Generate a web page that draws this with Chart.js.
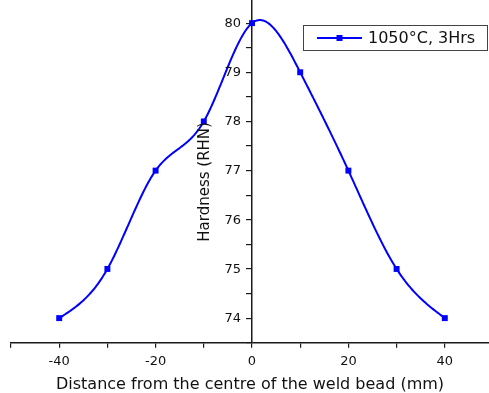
<!DOCTYPE html>
<html>
<head>
<meta charset="utf-8">
<script src="https://cdn.jsdelivr.net/npm/chart.js@4.4.1/dist/chart.umd.min.js"></script>
<style>
  html, body { margin: 0; padding: 0; background: #ffffff; }
  #wrap { width: 489px; height: 393px; }
</style>
</head>
<body>
<div id="wrap"><canvas id="c" width="489" height="393"></canvas></div>
<script>
// ---- data ----
const distances = [-40, -30, -20, -10, 0, 10, 20, 30, 40];      // mm
const hardness  = [74, 75, 77, 78, 80, 79, 77, 75, 74];           // RHN
const seriesLabel = '1050°C, 3Hrs';
const xTitle = 'Distance from the centre of the weld bead (mm)';
const yTitle = 'Hardness (RHN)';
const xLabelTicks = [-40, -20, 0, 20, 40];
const yLabelTicks = [74, 75, 76, 77, 78, 79, 80];

const FONT = 'DejaVu Sans';
const BLUE = '#0000ff';
const AXIS = '#1a1a1a';

const points = distances.map((d, i) => ({ x: d, y: hardness[i] }));

// natural cubic spline second derivatives (rendering of the connecting line, as in the source plot)
function splineM(xs, ys) {
  const n = xs.length, a = [], b = [], c = [], r = [];
  for (let i = 0; i < n; i++) {
    if (i === 0 || i === n - 1) { a[i] = 0; b[i] = 1; c[i] = 0; r[i] = 0; continue; }
    const h0 = xs[i] - xs[i - 1], h1 = xs[i + 1] - xs[i];
    a[i] = h0; b[i] = 2 * (h0 + h1); c[i] = h1;
    r[i] = 6 * ((ys[i + 1] - ys[i]) / h1 - (ys[i] - ys[i - 1]) / h0);
  }
  for (let i = 1; i < n; i++) {
    const m = a[i] / b[i - 1];
    b[i] -= m * c[i - 1]; r[i] -= m * r[i - 1];
  }
  const M = new Array(n);
  M[n - 1] = r[n - 1] / b[n - 1];
  for (let i = n - 2; i >= 0; i--) M[i] = (r[i] - c[i] * M[i + 1]) / b[i];
  return M;
}

const splineLine = {
  id: 'splineLine',
  beforeDatasetsDraw(chart) {
    const xs = chart.scales.x, ysc = chart.scales.y, ctx = chart.ctx;
    const X = distances, Y = hardness, M = splineM(X, Y);
    ctx.save();
    ctx.strokeStyle = BLUE;
    ctx.lineWidth = 2;
    ctx.lineJoin = 'round';
    ctx.beginPath();
    for (let i = 0; i < X.length - 1; i++) {
      const h = X[i + 1] - X[i];
      const steps = 40;
      for (let s = (i === 0 ? 0 : 1); s <= steps; s++) {
        const t = X[i] + h * s / steps;
        const A = (X[i + 1] - t) / h, B = (t - X[i]) / h;
        const v = A * Y[i] + B * Y[i + 1] + ((A * A * A - A) * M[i] + (B * B * B - B) * M[i + 1]) * h * h / 6;
        const px = xs.getPixelForValue(t), py = ysc.getPixelForValue(v);
        if (i === 0 && s === 0) ctx.moveTo(px, py); else ctx.lineTo(px, py);
      }
    }
    ctx.stroke();
    ctx.restore();
  }
};

// y tick labels and title beside the centred y axis
const yAxisText = {
  id: 'yAxisText',
  afterDraw(chart) {
    const ctx = chart.ctx, ys = chart.scales.y, xs = chart.scales.x;
    const ax = xs.getPixelForValue(0);
    ctx.save();
    ctx.font = '13px "' + FONT + '"';
    ctx.fillStyle = '#111';
    ctx.textAlign = 'right';
    ctx.textBaseline = 'middle';
    yLabelTicks.forEach(v => ctx.fillText(String(v), ax - 11, ys.getPixelForValue(v) + 0.5));
    ctx.translate(ax - 47, ys.getPixelForValue(76.77));
    ctx.rotate(-Math.PI / 2);
    ctx.font = '15px "' + FONT + '"';
    ctx.textAlign = 'center';
    ctx.fillText(yTitle, 0, 0);
    ctx.restore();
  }
};

// boxed legend (line + square marker + label), top right
const boxLegend = {
  id: 'boxLegend',
  afterDraw(chart) {
    const ctx = chart.ctx;
    const x0 = 303.5, y0 = 25.5, w = 184, h = 25;
    const cy = y0 + h / 2;
    ctx.save();
    ctx.strokeStyle = '#444';
    ctx.lineWidth = 1;
    ctx.strokeRect(x0, y0, w, h);
    ctx.strokeStyle = BLUE;
    ctx.lineWidth = 2;
    ctx.beginPath();
    ctx.moveTo(317, cy);
    ctx.lineTo(362, cy);
    ctx.stroke();
    ctx.fillStyle = BLUE;
    ctx.fillRect(339.5 - 3, cy - 3, 6, 6);
    ctx.fillStyle = '#111';
    ctx.font = '16px "' + FONT + '"';
    ctx.textBaseline = 'middle';
    ctx.textAlign = 'left';
    ctx.fillText(seriesLabel, 368, cy + 1);
    ctx.restore();
  }
};

new Chart(document.getElementById('c'), {
  type: 'line',
  data: {
    datasets: [{
      label: seriesLabel,
      data: points,
      showLine: false,
      borderColor: BLUE,
      backgroundColor: BLUE,
      pointStyle: 'rect',
      pointRadius: 4.2,
      pointBorderWidth: 0,
      pointBackgroundColor: BLUE,
      clip: false
    }]
  },
  options: {
    responsive: false,
    animation: false,
    devicePixelRatio: 1,
    layout: { autoPadding: false, padding: { left: 11, right: 0, top: 0, bottom: -1.5 } },
    plugins: { legend: { display: false }, tooltip: { enabled: false } },
    scales: {
      x: {
        type: 'linear',
        min: -50,
        max: 49.17,
        position: 'bottom',
        border: { display: true, color: AXIS, width: 1.5 },
        grid: { drawOnChartArea: false, drawTicks: true, tickLength: 5, color: AXIS, tickColor: AXIS, lineWidth: 1.2 },
        ticks: {
          stepSize: 10, autoSkip: false, includeBounds: false, maxRotation: 0, padding: 6,
          color: '#111', font: { family: FONT, size: 13 },
          callback: v => xLabelTicks.includes(v) ? String(v) : ''
        },
        title: {
          display: true, text: xTitle, color: '#111',
          font: { family: FONT, size: 16 }, padding: { top: 0, bottom: 0 }
        }
      },
      y: {
        type: 'linear',
        min: 73.5,
        max: 80.47,
        position: { x: 0 },
        border: { display: true, color: AXIS, width: 1.5 },
        grid: { drawOnChartArea: false, drawTicks: true, tickLength: 5, color: AXIS, tickColor: AXIS, lineWidth: 1.2 },
        ticks: { display: false, stepSize: 0.5, autoSkip: false, includeBounds: false },
        title: { display: false }
      }
    }
  },
  plugins: [splineLine, yAxisText, boxLegend]
});
</script>
</body>
</html>
